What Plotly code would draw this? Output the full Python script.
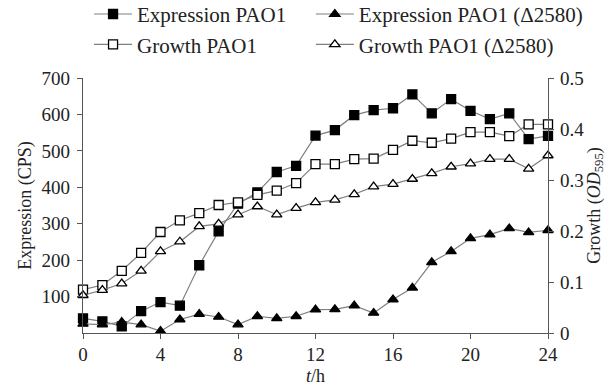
import plotly.graph_objects as go

hours = list(range(25))
expr_pao1 = [40, 32, 18, 60, 85, 75, 186, 279, 355, 386, 442, 459, 542, 557,
             598, 612, 617, 655, 603, 642, 610, 587, 603, 532, 541]
expr_d2580 = [25, 23, 30, 23, 5, 37, 52, 44, 23, 46, 40, 46, 64, 65,
              75, 55, 92, 124, 194, 224, 260, 270, 287, 276, 282]
growth_pao1 = [0.085, 0.094, 0.122, 0.157, 0.198, 0.221, 0.235, 0.251, 0.256,
               0.271, 0.279, 0.294, 0.331, 0.331, 0.341, 0.342, 0.359, 0.377,
               0.373, 0.381, 0.394, 0.394, 0.386, 0.409, 0.409]
growth_d2580 = [0.074, 0.084, 0.097, 0.122, 0.160, 0.179, 0.209, 0.214, 0.232,
                0.248, 0.232, 0.245, 0.256, 0.261, 0.272, 0.287, 0.292, 0.302,
                0.313, 0.326, 0.332, 0.341, 0.341, 0.322, 0.348]

left_ticks = [100, 200, 300, 400, 500, 600, 700]
right_ticks = [0, 0.1, 0.2, 0.3, 0.4, 0.5]
right_labels = ["0", "0.1", "0.2", "0.3", "0.4", "0.5"]
x_ticks = [0, 4, 8, 12, 16, 20, 24]

FONT = "Liberation Serif, Times New Roman, serif"
LINE = "#7f7f7f"

fig = go.Figure()

def add(name, y, symbol, fill, axis, legend):
    fig.add_trace(go.Scatter(
        x=hours, y=y, name=name, yaxis=axis, mode="lines+markers",
        cliponaxis=False, legend=legend,
        line=dict(color=LINE, width=1.2),
        marker=dict(symbol=symbol, size=9,
                    color=fill, line=dict(color="black", width=1.3)),
    ))

add("Expression PAO1", expr_pao1, "square", "black", "y", "legend")
add("Expression PAO1 (Δ2580)", expr_d2580, "triangle-up", "black", "y", "legend2")
add("Growth PAO1", growth_pao1, "square", "white", "y2", "legend")
add("Growth PAO1 (Δ2580)", growth_d2580, "triangle-up", "white", "y2", "legend2")

axis_common = dict(showgrid=False, zeroline=False, showline=True,
                   linecolor="#555555", linewidth=1.2, ticks="outside",
                   ticklen=5, tickcolor="#555555", automargin=False,
                   tickfont=dict(family=FONT, size=19, color="#222"))

leg_common = dict(orientation="v", y=1.33, yanchor="top", xanchor="left",
                  font=dict(family=FONT, size=21, color="#222"),
                  bgcolor="rgba(0,0,0,0)", itemwidth=38, tracegroupgap=0)

fig.update_layout(
    width=613, height=388,
    margin=dict(l=83, r=65, t=78, b=55, autoexpand=False),
    paper_bgcolor="white", plot_bgcolor="white",
    font=dict(family=FONT, size=18, color="#222"),
    xaxis=dict(range=[0, 24], tickvals=x_ticks,
               title=dict(text="<i>t</i>/h", standoff=5,
                          font=dict(family=FONT, size=18)),
               ticklabelstandoff=-1,
               **axis_common),
    yaxis=dict(range=[0, 700], tickvals=left_ticks,
               title=dict(text="Expression (CPS)", standoff=5,
                          font=dict(family=FONT, size=18)),
               ticklabelstandoff=3,
               **axis_common),
    yaxis2=dict(range=[0, 0.5], tickvals=right_ticks, ticktext=right_labels,
                overlaying="y", side="right",
                title=dict(text="Growth (<i>OD</i><sub>595</sub>)", standoff=0,
                           font=dict(family=FONT, size=18)),
                ticklabelstandoff=2,
                **axis_common),
    legend=dict(x=0.013, **leg_common),
    legend2=dict(x=0.49, **leg_common),
    showlegend=True,
)

fig.write_html("out.html", config={"displayModeBar": False},
               post_script="document.body.style.margin='0';")
